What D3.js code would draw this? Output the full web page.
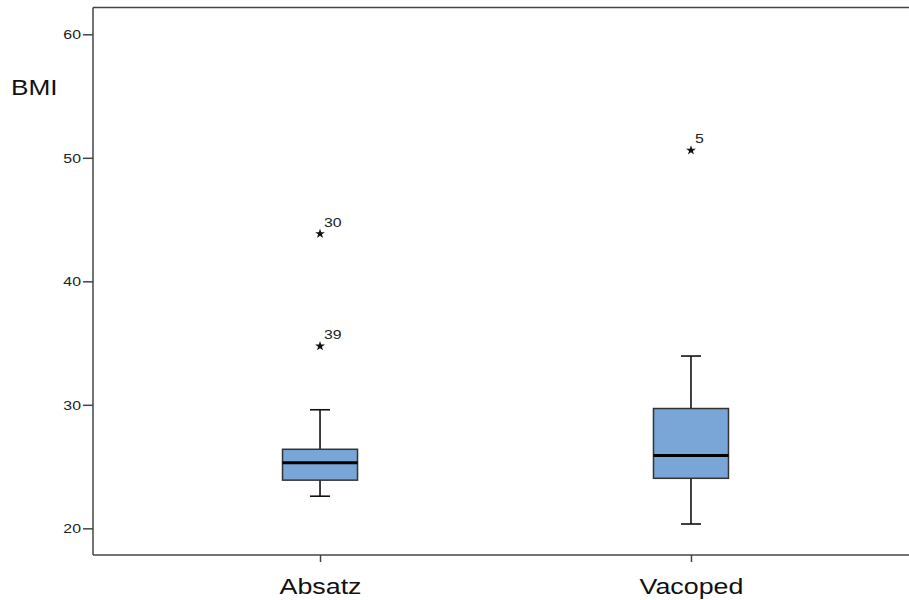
<!DOCTYPE html>
<html>
<head>
<meta charset="utf-8">
<script src="https://cdn.jsdelivr.net/npm/d3@7"></script>
<style>
body { margin: 0; background: #fff; }
text { font-family: "Liberation Sans", Arial, sans-serif; }
</style>
</head>
<body>
<svg></svg>
<script>
// groups and their box statistics
var groups = ["Absatz", "Vacoped"];
var lowWhisker = [22.6, 20.35];
var q1 = [23.9, 24.05];
var median = [25.3, 25.9];
var q3 = [26.4, 29.7];
var highWhisker = [29.6, 33.95];

// extreme values, with their case numbers
var outlierGroup = ["Absatz", "Absatz", "Vacoped"];
var outlierValue = [43.85, 34.75, 50.6];
var outlierCase = ["30", "39", "5"];

var yTicks = [20, 30, 40, 50, 60];

var screen = {width: 909, height: 600};
var plot = {left: 93, right: 918, top: 7.5, bottom: 555};
var stretch = 1.22;

var svg = d3.select("svg")
    .attr("width", screen.width)
    .attr("height", screen.height);

var xScale = d3.scalePoint().domain(groups).range([plot.left, plot.right]).padding(0.612);
var yScale = d3.scaleLinear().domain([17.84, 62.17]).range([plot.bottom, plot.top]);

var boxes = groups.map(function(g, i) {
    return {name: g, lo: lowWhisker[i], q1: q1[i], med: median[i], q3: q3[i], hi: highWhisker[i]};
});
var outliers = outlierValue.map(function(v, i) {
    return {group: outlierGroup[i], value: v, label: outlierCase[i]};
});

// top frame line
svg.append("line")
    .attr("x1", plot.left).attr("x2", screen.width)
    .attr("y1", plot.top).attr("y2", plot.top)
    .attr("stroke", "#444").attr("stroke-width", 1.5);

// y axis
var yAxis = svg.append("g")
    .attr("transform", "translate(" + plot.left + ",0)")
    .call(d3.axisLeft(yScale).tickValues(yTicks).tickSize(10).tickPadding(2));
yAxis.select(".domain").attr("stroke", "#444").attr("stroke-width", 1.5)
    .attr("d", "M0," + plot.top + "V" + plot.bottom);
yAxis.selectAll(".tick line").attr("stroke", "#444").attr("stroke-width", 1.5);
yAxis.selectAll(".tick text")
    .attr("font-size", 13)
    .attr("fill", "#222")
    .attr("x", null).attr("dy", null)
    .attr("transform", "translate(-12,4.5) scale(" + stretch + ",1)");

// x axis
var xAxis = svg.append("g")
    .attr("transform", "translate(0," + plot.bottom + ")")
    .call(d3.axisBottom(xScale).tickSize(7).tickSizeOuter(0));
xAxis.select(".domain").attr("stroke", "#444").attr("stroke-width", 1.5)
    .attr("d", "M" + plot.left + ",0H" + screen.width);
xAxis.selectAll(".tick line").attr("stroke", "#444").attr("stroke-width", 1.5);
xAxis.selectAll(".tick text")
    .attr("font-size", 22)
    .attr("fill", "#111")
    .attr("y", null).attr("dy", null)
    .attr("transform", "translate(0,38.5) scale(" + stretch + ",1)");

// axis title
svg.append("text")
    .attr("transform", "translate(11,95) scale(" + stretch + ",1)")
    .attr("font-size", 21.5)
    .attr("fill", "#111")
    .text("BMI");

var boxWidth = 75;
var capWidth = 20;

var box = svg.append("g").selectAll("g")
    .data(boxes)
    .enter()
    .append("g")
    .attr("transform", function(d) { return "translate(" + xScale(d.name) + ",0)"; });

box.append("line")
    .attr("x1", 0).attr("x2", 0)
    .attr("y1", function(d) { return yScale(d.hi); })
    .attr("y2", function(d) { return yScale(d.lo); })
    .attr("stroke", "#111").attr("stroke-width", 1.6);

box.selectAll(".cap")
    .data(function(d) { return [d.lo, d.hi]; })
    .enter()
    .append("line")
    .attr("class", "cap")
    .attr("x1", -capWidth / 2).attr("x2", capWidth / 2)
    .attr("y1", function(v) { return yScale(v); })
    .attr("y2", function(v) { return yScale(v); })
    .attr("stroke", "#111").attr("stroke-width", 1.6);

box.append("rect")
    .attr("x", -boxWidth / 2)
    .attr("width", boxWidth)
    .attr("y", function(d) { return yScale(d.q3); })
    .attr("height", function(d) { return yScale(d.q1) - yScale(d.q3); })
    .attr("fill", "#79a6d6")
    .attr("stroke", "#333").attr("stroke-width", 1.5);

box.append("line")
    .attr("x1", -boxWidth / 2).attr("x2", boxWidth / 2)
    .attr("y1", function(d) { return yScale(d.med); })
    .attr("y2", function(d) { return yScale(d.med); })
    .attr("stroke", "#000").attr("stroke-width", 3);

// extreme values drawn as stars
var star = d3.symbol().type(d3.symbolStar).size(30);
var extreme = svg.append("g").selectAll("g")
    .data(outliers)
    .enter()
    .append("g")
    .attr("transform", function(d) { return "translate(" + xScale(d.group) + "," + yScale(d.value) + ")"; });

extreme.append("path")
    .attr("d", star)
    .attr("fill", "#111");

extreme.append("text")
    .attr("transform", "translate(4,-7) scale(" + stretch + ",1)")
    .attr("font-size", 13)
    .attr("fill", "#222")
    .text(function(d) { return d.label; });
</script>
</body>
</html>
